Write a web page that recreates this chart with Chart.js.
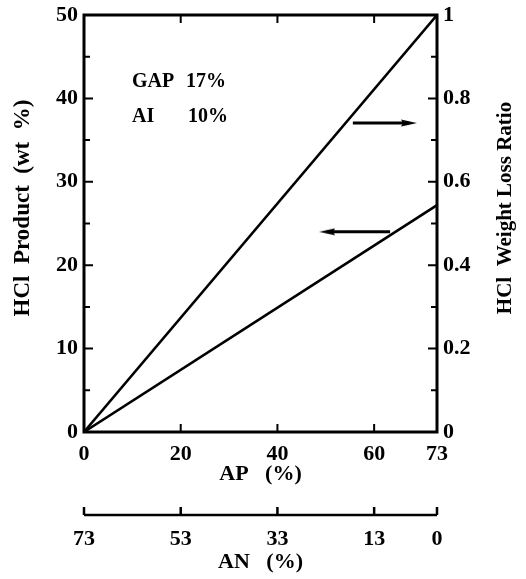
<!DOCTYPE html>
<html>
<head>
<meta charset="utf-8">
<script src="https://cdn.jsdelivr.net/npm/chart.js@4"></script>
<style>
  body { margin: 0; background: #fff; }
  #wrap { width: 526px; height: 579px; }
</style>
</head>
<body>
<div id="wrap"><canvas id="graphique" width="526" height="579"></canvas></div>
<script>
// Données
const apTicks = [0, 20, 40, 60, 73];          // AP (%)
const anTicks = [73, 53, 33, 13, 0];          // AN (%)
const productTicks = [0, 10, 20, 30, 40, 50];
const ratioTicks = [0, 0.2, 0.4, 0.6, 0.8, 1];
const apValues = [0, 73];
const weightLossRatio = [0, 1.0];             // axe de droite
const hclProduct = [0, 27.2];                 // axe de gauche (wt %)
const arrowRatioX = [55.6, 67.2];
const arrowRatioY = [0.741, 0.741];
const arrowProductX = [63.3, 50.3];
const arrowProductY = [24.0, 24.0];

const FONT = '"Liberation Serif", "Times New Roman", serif';
const tickFont = { family: FONT, size: 22, weight: 'bold' };
const titleFont = { family: FONT, size: 22, weight: 'bold' };

const toPoints = (xs, ys) => xs.map((x, i) => ({ x: x, y: ys[i] }));

// Pointe de flèche étroite (pointe vers la droite)
function makeArrowHead() {
  const c = document.createElement('canvas');
  c.width = 16; c.height = 8;
  const g = c.getContext('2d');
  g.fillStyle = '#000';
  g.beginPath();
  g.moveTo(16, 4); g.lineTo(0, 0.5); g.lineTo(2, 4); g.lineTo(0, 7.5);
  g.closePath();
  g.fill();
  return c;
}
const arrowHead = makeArrowHead();

// Largeur / hauteur fixes des axes, sans marge de débordement des étiquettes
const fixSize = (w, h) => s => {
  if (w !== null) s.width = w;
  if (h !== null) s.height = h;
  s.paddingTop = 0; s.paddingBottom = 0;
  s.paddingLeft = 0; s.paddingRight = 0;
};

// Cadre, graduations intérieures, axe AN et annotations
const decorPlugin = {
  id: 'decor',
  afterDraw(chart) {
    const { ctx, chartArea: a, scales } = chart;
    const x = scales.x, y = scales.y, y1 = scales.y1, x2 = scales.x2;
    ctx.save();
    ctx.strokeStyle = '#000';
    ctx.lineWidth = 3;
    ctx.strokeRect(a.left, a.top, a.right - a.left, a.bottom - a.top);

    ctx.lineWidth = 2;
    ctx.beginPath();
    // gauche : 0..50 pas de 5
    for (let v = 5; v < 50; v += 5) {
      const py = y.getPixelForValue(v);
      const len = v % 10 === 0 ? 9 : 6;
      ctx.moveTo(a.left, py); ctx.lineTo(a.left + len, py);
    }
    // droite : 0..1 pas de 0.1
    for (let i = 1; i < 10; i++) {
      const py = y1.getPixelForValue(i / 10);
      const len = i % 2 === 0 ? 9 : 6;
      ctx.moveTo(a.right, py); ctx.lineTo(a.right - len, py);
    }
    // bas et haut
    [20, 40, 60].forEach(v => {
      const px = x.getPixelForValue(v);
      ctx.moveTo(px, a.bottom); ctx.lineTo(px, a.bottom - 8);
      ctx.moveTo(px, a.top); ctx.lineTo(px, a.top + 8);
    });
    ctx.stroke();

    // axe secondaire AN
    const lineY = x2.top + 23;
    ctx.lineWidth = 2.5;
    ctx.beginPath();
    ctx.moveTo(x2.getPixelForValue(73), lineY);
    ctx.lineTo(x2.getPixelForValue(0), lineY);
    anTicks.forEach(v => {
      const px = x2.getPixelForValue(v);
      ctx.moveTo(px, lineY); ctx.lineTo(px, lineY - 8);
    });
    ctx.stroke();

    // titres des axes verticaux (lus de bas en haut)
    ctx.fillStyle = '#000';
    ctx.textAlign = 'center';
    ctx.textBaseline = 'middle';
    const midY = 208;
    ctx.save();
    ctx.font = 'bold 23px ' + FONT;
    ctx.translate(23, midY);
    ctx.rotate(-Math.PI / 2);
    ctx.fillText('HCl  Product  (wt  %)', 0, 0);
    ctx.restore();
    ctx.save();
    ctx.font = 'bold 21px ' + FONT;
    ctx.translate(506, midY);
    ctx.rotate(-Math.PI / 2);
    ctx.fillText('HCl  Weight Loss Ratio', 0, 0);
    ctx.restore();

    // annotations
    ctx.font = 'bold 20px ' + FONT;
    ctx.textAlign = 'left';
    ctx.textBaseline = 'alphabetic';
    ctx.fillText('GAP', 132, 87);
    ctx.fillText('17%', 186, 87);
    ctx.fillText('AI', 132, 122);
    ctx.fillText('10%', 188, 122);
    ctx.restore();
  }
};

const commonLine = {
  borderColor: '#000',
  backgroundColor: '#000',
  fill: false,
  tension: 0
};

new Chart(document.getElementById('graphique'), {
  type: 'line',
  data: {
    datasets: [
      Object.assign({}, commonLine, {
        label: 'Weight Loss Ratio',
        data: toPoints(apValues, weightLossRatio),
        yAxisID: 'y1',
        borderWidth: 2.5,
        pointRadius: 0
      }),
      Object.assign({}, commonLine, {
        label: 'HCl Product',
        data: toPoints(apValues, hclProduct),
        yAxisID: 'y',
        borderWidth: 2.5,
        pointRadius: 0
      }),
      Object.assign({}, commonLine, {
        label: 'arrow ratio',
        data: toPoints(arrowRatioX, arrowRatioY),
        yAxisID: 'y1',
        borderWidth: 3,
        pointStyle: arrowHead,
        pointRadius: [0, 8],
        pointRotation: 0
      }),
      Object.assign({}, commonLine, {
        label: 'arrow product',
        data: toPoints(arrowProductX, arrowProductY),
        yAxisID: 'y',
        borderWidth: 3,
        pointStyle: arrowHead,
        pointRadius: [0, 8],
        pointRotation: 180
      })
    ]
  },
  options: {
    responsive: false,
    animation: false,
    layout: { padding: { top: 15, left: 0, right: 0, bottom: 0 } },
    plugins: {
      legend: { display: false },
      tooltip: { enabled: false }
    },
    scales: {
      x: {
        type: 'linear',
        position: 'bottom',
        min: 0, max: 73,
        weight: 0,
        afterBuildTicks: s => { s.ticks = apTicks.map(v => ({ value: v })); },
        afterFit: fixSize(null, 60),
        grid: { display: false, drawTicks: false },
        border: { display: false },
        ticks: { color: '#000', font: tickFont, padding: 9, maxRotation: 0, autoSkip: false },
        title: { display: true, text: 'AP   (%)', color: '#000', font: titleFont, padding: { top: 0, bottom: 4 } }
      },
      x2: {
        type: 'linear',
        position: 'bottom',
        min: 0, max: 73,
        reverse: true,
        weight: 1,
        afterBuildTicks: s => { s.ticks = anTicks.map(v => ({ value: v })); },
        afterFit: fixSize(null, 87),
        grid: { display: false, drawTicks: false },
        border: { display: false },
        ticks: { color: '#000', font: tickFont, padding: 34, maxRotation: 0, autoSkip: false },
        title: { display: true, text: 'AN   (%)', color: '#000', font: titleFont, padding: { top: 0, bottom: 3 } }
      },
      y: {
        type: 'linear',
        position: 'left',
        min: 0, max: 50,
        afterBuildTicks: s => { s.ticks = productTicks.map(v => ({ value: v })); },
        afterFit: fixSize(84, null),
        grid: { display: false, drawTicks: false },
        border: { display: false },
        ticks: { color: '#000', font: tickFont, padding: 6 },
        title: { display: false }
      },
      y1: {
        type: 'linear',
        position: 'right',
        min: 0, max: 1,
        afterBuildTicks: s => { s.ticks = ratioTicks.map(v => ({ value: v })); },
        afterFit: fixSize(89, null),
        grid: { display: false, drawTicks: false },
        border: { display: false },
        ticks: { color: '#000', font: tickFont, padding: 6, callback: v => String(Math.round(v * 10) / 10) }
      }
    }
  },
  plugins: [decorPlugin]
});
</script>
</body>
</html>
